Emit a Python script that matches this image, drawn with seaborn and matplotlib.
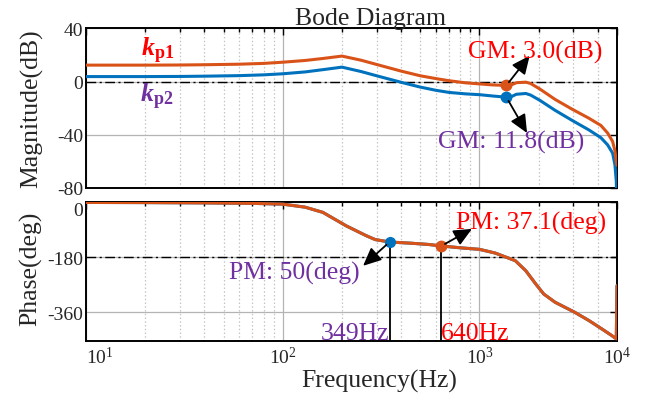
import matplotlib
matplotlib.use("Agg")
import matplotlib.pyplot as plt
from matplotlib.ticker import LogLocator, NullLocator, NullFormatter, FixedLocator, FixedFormatter
import pandas as pd
import seaborn as sns

# ---- open-loop magnitude response (Hz, dB) for the two proportional gains ----
mag_freq = [10, 20, 30, 40, 60, 80, 100, 130, 160, 200, 250, 300, 400, 500, 600,
            700, 850, 1000, 1150, 1370, 1450, 1540, 1720, 1820, 2030, 2420, 2940,
            3600, 4140, 4480, 4750, 4880, 4960, 5000]
mag_kp1 = [12.3, 12.3, 12.4, 12.6, 13.0, 13.6, 14.5, 15.8, 17.3, 19.1, 16.0, 12.8,
           7.8, 4.3, 2.2, 0.6, -1.0, -1.8, -2.5, -3.0, -2.6, -0.9, -0.5, -1.5,
           -5.7, -13.4, -20.6, -27.6, -33.0, -38.7, -45.0, -52.0, -60.0, -63.0]
mag_kp2 = [3.7, 3.7, 3.8, 4.0, 4.4, 5.0, 5.8, 7.2, 8.9, 10.8, 7.5, 4.3,
           -0.6, -4.2, -6.6, -8.2, -9.3, -9.9, -10.8, -11.8, -11.4, -9.6, -9.0, -10.2,
           -14.2, -21.6, -29.0, -36.4, -42.2, -47.6, -53.8, -62.5, -75.0, -100.0]

# ---- phase response (deg), identical for both gains ----
ph_freq = [10, 20, 40, 70, 100, 130, 160, 210, 265, 295, 349, 450, 550, 640, 800,
           1000, 1200, 1370, 1520, 1720, 1930, 2120, 2420, 3050, 3600, 4200, 4700,
           4960, 5000]
phase = [-0.5, -1, -2, -3.5, -6, -16, -33, -77, -109, -122, -130, -134, -138, -142.9,
         -149, -154, -166, -180, -191, -224, -267, -300, -327, -360, -387, -415,
         -436, -447, -273]

# stability margins
gm_freq = 1370
gm_kp1, gm_kp2 = -3.0, -11.8
pm_freq_kp2, pm_phase_kp2 = 349, -130.0
pm_freq_kp1, pm_phase_kp1 = 640, -142.9

x_ticks = [10, 100, 1000, 5000]
x_ticklabels = [r"$10^{1}$", r"$10^{2}$", r"$10^{3}$", r"$10^{4}$"]
mag_ticks = [-80, -40, 0, 40]
phase_ticks = [-360, -180, 0]

ORANGE = "#D95319"
BLUE = "#0072BD"
RED = "#FF0000"
PURPLE = "#7030A0"

sns.set_style("white")
plt.rcParams.update({
    "font.family": ["Liberation Serif", "DejaVu Serif"],
    "mathtext.fontset": "custom",
    "mathtext.rm": "Liberation Serif",
    "mathtext.it": "Liberation Serif:italic",
    "mathtext.bf": "Liberation Serif:bold",
    "mathtext.bfit": "Liberation Serif:bold:italic",
    "axes.unicode_minus": False,
})

n_mag = len(mag_freq)
n_ph = len(ph_freq)
mag_df = pd.DataFrame({
    "Frequency": mag_freq + mag_freq,
    "Magnitude": mag_kp1 + mag_kp2,
    "gain": ["kp1"] * n_mag + ["kp2"] * n_mag,
})
ph_df = pd.DataFrame({
    "Frequency": ph_freq + ph_freq,
    "Phase": phase + phase,
    "gain": ["kp1"] * n_ph + ["kp2"] * n_ph,
})
palette = {"kp1": ORANGE, "kp2": BLUE}

fig = plt.figure(figsize=(6.52, 4.02), dpi=100)
ax_m = fig.add_axes([0.1319, 0.5299, 0.8144, 0.3973])
ax_p = fig.add_axes([0.1319, 0.1500, 0.8144, 0.3443])

TICK_FS = 14
TEXT_FS = 18.5

for ax in (ax_m, ax_p):
    ax.set_xscale("log")
    ax.set_xlim(10, 5000)
    ax.xaxis.set_major_locator(FixedLocator(x_ticks))
    ax.xaxis.set_minor_locator(LogLocator(base=10, subs=range(2, 10)))
    ax.xaxis.set_minor_formatter(NullFormatter())
    ax.yaxis.set_minor_locator(NullLocator())
    ax.grid(which="major", axis="both", color="#b4b4b4", lw=0.9, ls="-")
    ax.grid(which="minor", axis="x", color="#c4c4c4", lw=0.9, ls=(0, (1.2, 1.8)))
    ax.set_axisbelow(True)
    ax.tick_params(which="both", direction="in", top=True, right=True,
                   color="k", width=1.0, labelsize=TICK_FS, pad=2)
    ax.tick_params(which="major", length=5)
    ax.tick_params(which="minor", length=3)
    for s in ax.spines.values():
        s.set_color("k")
        s.set_linewidth(1.4)

# magnitude
sns.lineplot(data=mag_df, x="Frequency", y="Magnitude", hue="gain",
             hue_order=["kp2", "kp1"], palette=palette, linewidth=2.2,
             legend=False, estimator=None, ax=ax_m, zorder=3)
ax_m.set_ylim(-80, 40)
ax_m.set_yticks(mag_ticks)
ax_m.xaxis.set_major_formatter(NullFormatter())
ax_m.axhline(0, color="k", lw=1.0, ls=(0, (7, 2.5, 1.5, 2.5)), zorder=1.5)
ax_m.set_xlabel("")
ax_m.set_ylabel("Magnitude(dB)", fontsize=TEXT_FS)
ax_m.yaxis.set_label_coords(-0.081, 0.5)

ax_m.plot([gm_freq], [gm_kp1], "o", color=ORANGE, ms=7.5, zorder=5)
ax_m.plot([gm_freq], [gm_kp2], "o", color=BLUE, ms=7.5, zorder=5)

arrow = dict(arrowstyle="-|>,head_length=0.55,head_width=0.25", color="k",
             lw=1.3, mutation_scale=20, shrinkA=3, shrinkB=0)
ax_m.annotate("", xy=(1800, 19.4), xytext=(gm_freq, gm_kp1), arrowprops=arrow, zorder=6)
ax_m.annotate("", xy=(1745, -38.7), xytext=(gm_freq, gm_kp2), arrowprops=arrow, zorder=6)
ax_m.text(1918, 22.3, f"GM: {-gm_kp1:.1f}(dB)", color=RED, fontsize=TEXT_FS,
          ha="center", va="center", zorder=7)
ax_m.text(1449, -44.7, f"GM: {-gm_kp2:.1f}(dB)", color=PURPLE, fontsize=TEXT_FS,
          ha="center", va="center", zorder=7)
ax_m.text(23, 23.5, r"$\mathbfit{k}_{\mathbf{p1}}$", color=RED, fontsize=TEXT_FS,
          ha="center", va="center")
ax_m.text(23, -10.5, r"$\mathbfit{k}_{\mathbf{p2}}$", color=PURPLE, fontsize=TEXT_FS,
          ha="center", va="center")

# phase
sns.lineplot(data=ph_df, x="Frequency", y="Phase", hue="gain",
             hue_order=["kp2", "kp1"], palette=palette, linewidth=2.2,
             legend=False, estimator=None, ax=ax_p, zorder=3)
ph_bottom = -453
ax_p.set_ylim(ph_bottom, 0)
ax_p.set_yticks(phase_ticks)
# the top phase label sits just under the tick so it clears the "-80" above it
ax_p.yaxis.get_major_ticks()[-1].label1.set_verticalalignment("top")
ax_p.xaxis.set_major_formatter(FixedFormatter(x_ticklabels))
ax_p.tick_params(axis="x", which="major", pad=4)
ax_p.xaxis.get_major_ticks()[0].label1.set_horizontalalignment("left")
ax_p.axhline(-180, color="k", lw=1.0, ls=(0, (7, 2.5, 1.5, 2.5)), zorder=1.5)
ax_p.set_ylabel("Phase(deg)", fontsize=TEXT_FS)
ax_p.yaxis.set_label_coords(-0.083, 0.53)
ax_p.set_xlabel("Frequency(Hz)", fontsize=TEXT_FS)
ax_p.xaxis.set_label_coords(0.552, -0.205)

ax_p.vlines([pm_freq_kp2], ph_bottom, pm_phase_kp2, color="k", lw=1.3, zorder=4)
ax_p.vlines([pm_freq_kp1], ph_bottom, pm_phase_kp1, color="k", lw=1.3, zorder=4)
ax_p.plot([pm_freq_kp2], [pm_phase_kp2], "o", color=BLUE, ms=7, zorder=5)
ax_p.plot([pm_freq_kp1], [pm_phase_kp1], "o", color=ORANGE, ms=7.5, zorder=5)
ax_p.annotate("", xy=(256, -208), xytext=(pm_freq_kp2, pm_phase_kp2),
              arrowprops=arrow, zorder=6)
ax_p.annotate("", xy=(916, -87), xytext=(pm_freq_kp1, pm_phase_kp1),
              arrowprops=arrow, zorder=6)
ax_p.text(115, -228, f"PM: {180 + pm_phase_kp2:.0f}(deg)", color=PURPLE,
          fontsize=TEXT_FS, ha="center", va="center", zorder=7)
ax_p.text(1828, -65, f"PM: {180 + pm_phase_kp1:.1f}(deg)", color=RED,
          fontsize=TEXT_FS, ha="center", va="center", zorder=7)
ax_p.text(pm_freq_kp2, ph_bottom + 4, f"{pm_freq_kp2}Hz", color=PURPLE,
          fontsize=TEXT_FS, ha="right", va="baseline", zorder=7)
ax_p.text(pm_freq_kp1, ph_bottom + 4, f"{pm_freq_kp1}Hz", color=RED,
          fontsize=TEXT_FS, ha="left", va="baseline", zorder=7)

fig.text(370 / 652, 1 - 25.5 / 402, "Bode Diagram", fontsize=TEXT_FS,
         ha="center", va="baseline")

fig.savefig("out.png", dpi=100)
